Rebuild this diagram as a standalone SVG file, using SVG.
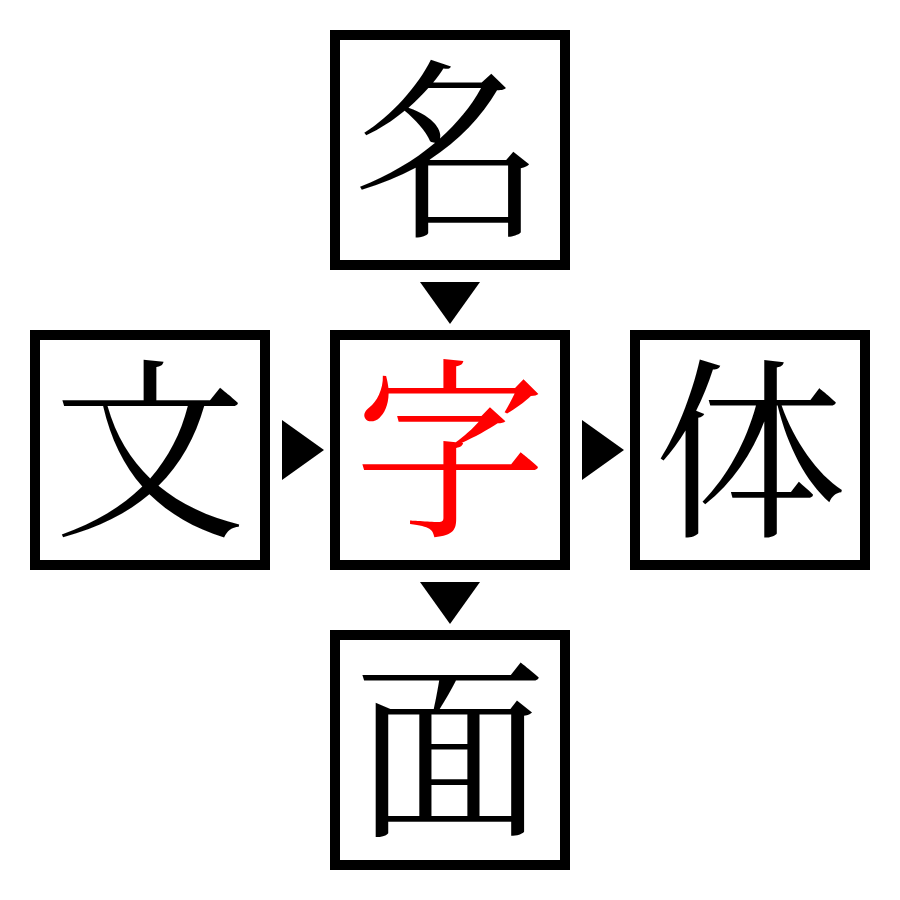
<svg xmlns="http://www.w3.org/2000/svg" width="900" height="900" viewBox="0 0 900 900">
<style>
.box{fill:#fff;stroke:#000;stroke-width:10}
.ch{font-family:"Noto Serif CJK JP","Noto Sans CJK JP","Liberation Serif",serif;font-size:193px;text-anchor:middle;dominant-baseline:central;fill:#000}
.red{fill:#ff0000}
.arr{fill:#000}
</style>
<rect width="900" height="900" fill="#fff"/>
<g id="connectors">
<polygon class="arr" points="420,282 480,282 450,324"/>
<polygon class="arr" points="420,582 480,582 450,624"/>
<polygon class="arr" points="282,420 282,480 324,450"/>
<polygon class="arr" points="582,420 582,480 624,450"/>
</g>
<g id="node-top"><rect class="box" x="335" y="35" width="230" height="230"/><text class="ch" x="450" y="138">名</text></g>
<g id="node-left"><rect class="box" x="35" y="335" width="230" height="230"/><text class="ch" x="150" y="438">文</text></g>
<g id="node-center"><rect class="box" x="335" y="335" width="230" height="230"/><text class="ch red" x="450" y="438">字</text></g>
<g id="node-right"><rect class="box" x="635" y="335" width="230" height="230"/><text class="ch" x="750" y="438">体</text></g>
<g id="node-bottom"><rect class="box" x="335" y="635" width="230" height="230"/><text class="ch" x="450" y="738">面</text></g>
</svg>
